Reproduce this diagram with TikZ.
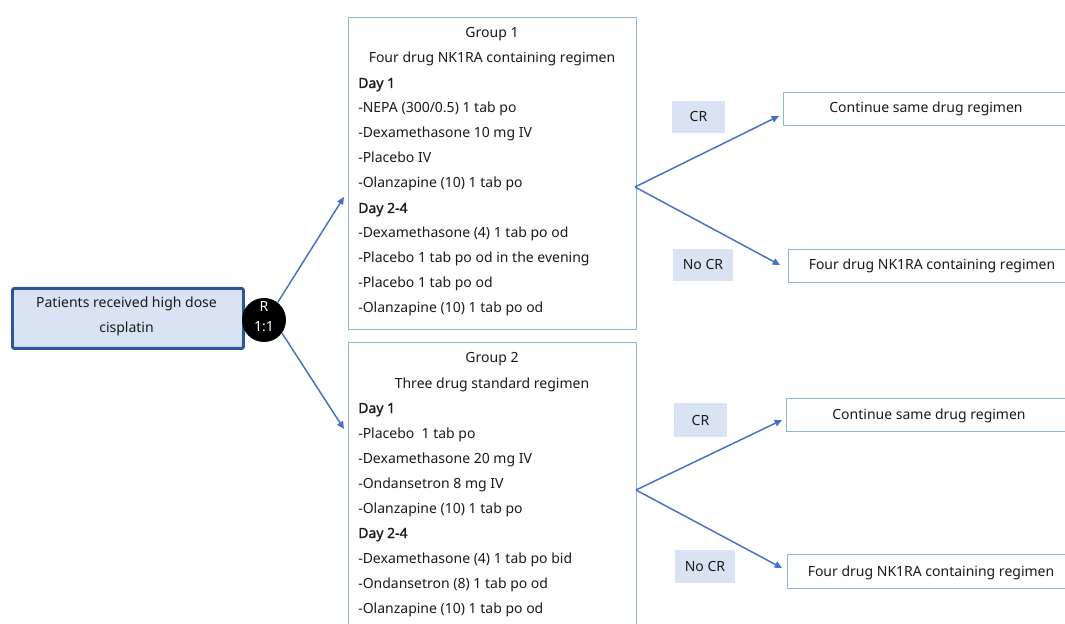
\documentclass[tikz,border=0pt]{standalone}
\usepackage{fontspec}
\setmainfont{Noto Sans}
\newfontfamily\dayfont{Noto Sans}[FakeBold=1.3]
\usetikzlibrary{arrows.meta,calc}
\definecolor{darkblue}{HTML}{2F5597}
\definecolor{paleblue}{HTML}{DAE3F3}
\definecolor{boxblue}{HTML}{8FB4E0}
\definecolor{arrowblue}{HTML}{4472C4}
\definecolor{txt}{HTML}{1A1A1A}
\begin{document}
\begin{tikzpicture}[x=0.75pt,y=-0.75pt,
  font=\fontsize{10.5pt}{12pt}\selectfont,
  every node/.style={text=txt},
  startbox/.style={draw=darkblue,fill=paleblue,line width=2.2pt,rounded corners=1.5pt,inner sep=0pt},
  groupbox/.style={draw=boxblue,line width=1.1pt,inner sep=0pt,anchor=north west},
  outbox/.style={draw=boxblue,line width=1.1pt,inner sep=0pt,anchor=north west},
  tagbox/.style={fill=paleblue,inner sep=0pt,anchor=north west},
  linetext/.style={inner sep=0pt,anchor=base west},
  ctrtext/.style={inner sep=0pt,anchor=base},
  dayhead/.style={inner sep=0pt,anchor=base west,font=\fontsize{10.5pt}{12pt}\dayfont},
  conn/.style={draw=arrowblue,line width=1.1pt,-{Triangle[length=5.5pt,width=5pt]}}
]
\useasboundingbox (0,0) rectangle (1065,624);

% start box
\node[startbox,minimum width=231*0.75pt,minimum height=60*0.75pt,anchor=north west] (start) at (11,287) {};
\node[ctrtext] (startl1) at (126.5,308) {Patients received high dose};
\node[ctrtext] (startl2) at (126.5,333) {cisplatin};

% randomisation circle
\node[circle,fill=black,minimum size=44*0.75pt,inner sep=0pt] (rnd) at (264,320) {};
\node[ctrtext,text=white,font=\fontsize{10.5pt}{10pt}\selectfont] (rndl1) at (264,311) {R};
\node[ctrtext,text=white,font=\fontsize{10.5pt}{10pt}\selectfont] (rndl2) at (264,331.5) {1:1};

% group 1
\node[groupbox,minimum width=288*0.75pt,minimum height=312*0.75pt] (g1) at (348,17) {};
\node[ctrtext] (g1t1) at (492,38) {Group 1};
\node[ctrtext] (g1t2) at (492,63) {Four drug NK1RA containing regimen};
\node[dayhead] (g1d1) at (358,88) {Day 1};
\foreach \t [count=\i] in {-NEPA (300/0.5) 1 tab po,-Dexamethasone 10 mg IV,-Placebo IV,-Olanzapine (10) 1 tab po}
  \node[linetext] (g1a\i) at (358,88+25*\i) {\t};
\node[dayhead] (g1d2) at (358,213) {Day 2-4};
\foreach \t [count=\i] in {-Dexamethasone (4) 1 tab po od,-Placebo 1 tab po od in the evening,-Placebo 1 tab po od,-Olanzapine (10) 1 tab po od}
  \node[linetext] (g1b\i) at (358,213+25*\i) {\t};

% group 2
\node[groupbox,minimum width=288*0.75pt,minimum height=290*0.75pt] (g2) at (348,342) {};
\node[ctrtext] (g2t1) at (492,363) {Group 2};
\node[ctrtext] (g2t2) at (492,388) {Three drug standard regimen};
\node[dayhead] (g2d1) at (358,413) {Day 1};
\foreach \t [count=\i] in {-Placebo\ \ 1 tab po,-Dexamethasone 20 mg IV,-Ondansetron 8 mg IV,-Olanzapine (10) 1 tab po}
  \node[linetext] (g2a\i) at (358,413+25*\i) {\t};
\node[dayhead] (g2d2) at (358,538) {Day 2-4};
\foreach \t [count=\i] in {-Dexamethasone (4) 1 tab po bid,-Ondansetron (8) 1 tab po od,-Olanzapine (10) 1 tab po od}
  \node[linetext] (g2b\i) at (358,538+25*\i) {\t};

% tags
\node[tagbox,minimum width=53*0.75pt,minimum height=32*0.75pt] (cr1) at (672,101) {};
\node[ctrtext] (cr1t) at (698.5,122) {CR};
\node[tagbox,minimum width=60*0.75pt,minimum height=32*0.75pt] (ncr1) at (673,249) {};
\node[ctrtext] (ncr1t) at (703,270) {No CR};
\node[tagbox,minimum width=53*0.75pt,minimum height=34*0.75pt] (cr2) at (674,403) {};
\node[ctrtext] (cr2t) at (700.5,425) {CR};
\node[tagbox,minimum width=60*0.75pt,minimum height=33*0.75pt] (ncr2) at (675,550) {};
\node[ctrtext] (ncr2t) at (705,571) {No CR};

% outcome boxes
\node[outbox,minimum width=290*0.75pt,minimum height=33*0.75pt] (o1) at (783,92) {};
\node[ctrtext] (o1t) at (926,113) {Continue same drug regimen};
\node[outbox,minimum width=290*0.75pt,minimum height=33*0.75pt] (o2) at (788,249) {};
\node[ctrtext] (o2t) at (932,270) {Four drug NK1RA containing regimen};
\node[outbox,minimum width=290*0.75pt,minimum height=33*0.75pt] (o3) at (786,398) {};
\node[ctrtext] (o3t) at (929,419) {Continue same drug regimen};
\node[outbox,minimum width=290*0.75pt,minimum height=34*0.75pt] (o4) at (787,554) {};
\node[ctrtext] (o4t) at (931,576) {Four drug NK1RA containing regimen};

% connector points
\coordinate (g1in) at (344,197);
\coordinate (g2in) at (344,429);
\coordinate (g1out) at (635,187);
\coordinate (g2out) at (636,490);
\coordinate (o1in) at (779,116);
\coordinate (o2in) at (780,265);
\coordinate (o3in) at (782,420);
\coordinate (o4in) at (782,568);

\draw[conn] (rnd.52) -- (g1in);
\draw[conn] (rnd.-36) -- (g2in);
\draw[conn] (g1out) -- (o1in);
\draw[conn] (g1out) -- (o2in);
\draw[conn] (g2out) -- (o3in);
\draw[conn] (g2out) -- (o4in);
\end{tikzpicture}
\end{document}
